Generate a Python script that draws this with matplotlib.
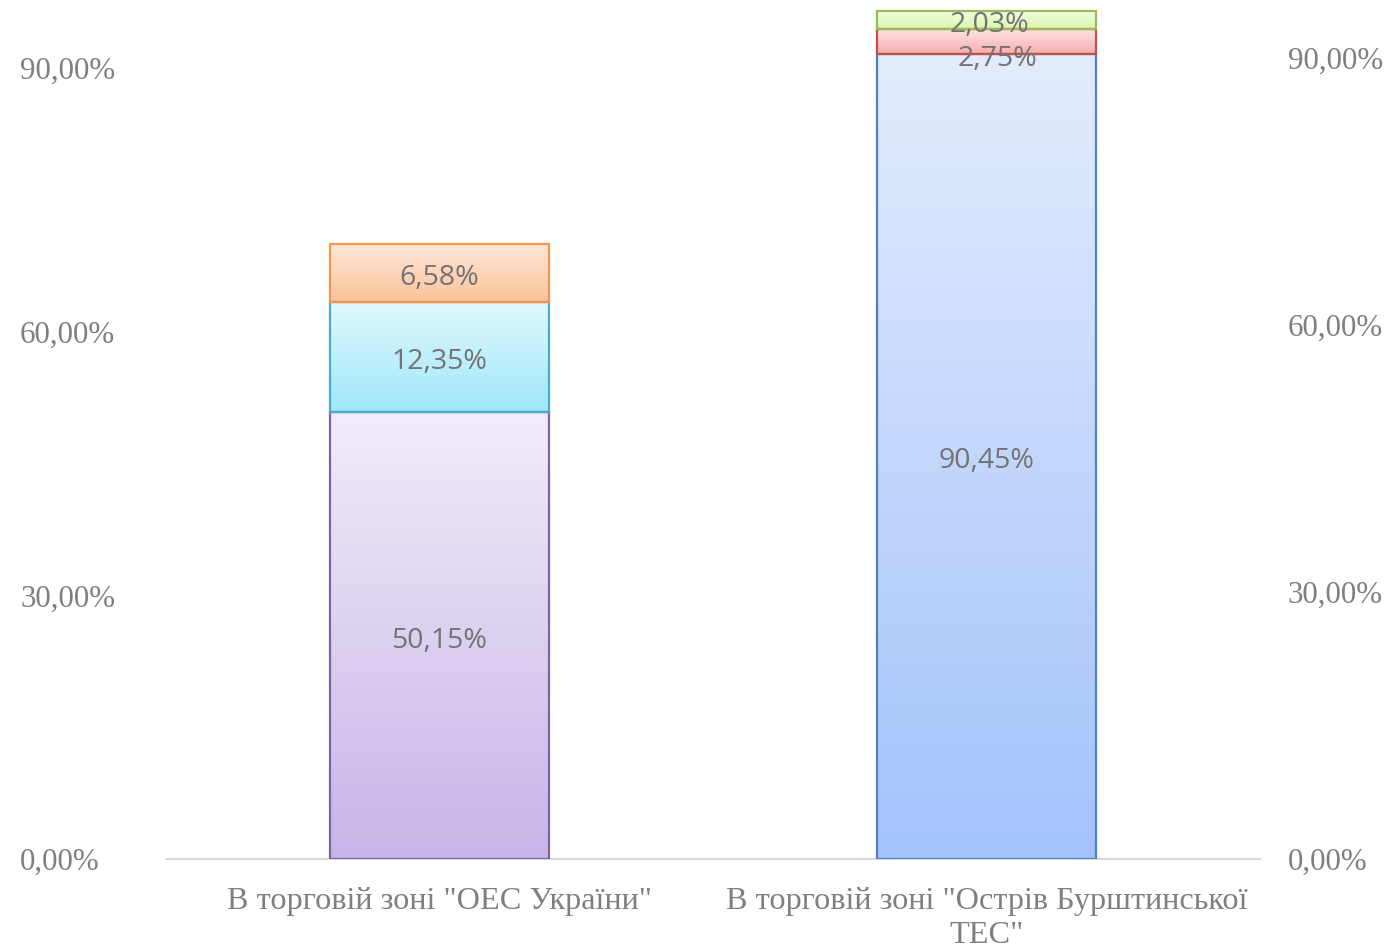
import matplotlib.pyplot as plt
import numpy as np
from matplotlib.colors import to_rgb

# shares by trading zone, stacked bottom -> top
zones = ['В торговій зоні "ОЕС України"', 'В торговій зоні "Острів Бурштинської\nТЕС"']
ues_values = [50.15, 12.35, 6.58]
burshtyn_values = [90.45, 2.75, 2.03]
yticks = [0, 30, 60, 90]

# (top colour, bottom colour, edge colour) per segment
ues_styles = [('#f1ecf9', '#c8b5e8', '#8064a2'),
              ('#e0f7fd', '#9fe8fa', '#4bacc6'),
              ('#fde7d9', '#fbc39a', '#f79646')]
burshtyn_styles = [('#e3ecfd', '#a4c2fc', '#4f81bd'),
                   ('#fde2e2', '#f8aeae', '#c0504d'),
                   ('#f1fce2', '#dbf6ad', '#9bbb59')]
# the thin red label is nudged so it doesn't sit on the green one
label_offsets = {(1, 1): (8, -9), (1, 2): (2, 0)}

gray = '#7f7f7f'
label_gray = '#737373'
serif = ['Liberation Serif', 'DejaVu Serif']
sans = ['Open Sans', 'DejaVu Sans']

fig = plt.figure(figsize=(13.91, 9.5), dpi=100)
ax = fig.add_axes([0.1193, 0.0958, 0.7865, 0.8989])
ax_left = ax.twinx()

width = 0.40
x = np.arange(len(zones))


def fmt(v):
    return f'{v:.2f}'.replace('.', ',') + '%'


for i, (vals, styles) in enumerate([(ues_values, ues_styles), (burshtyn_values, burshtyn_styles)]):
    bottom = 0
    for j, (v, (c_top, c_bot, c_edge)) in enumerate(zip(vals, styles)):
        t = np.linspace(0, 1, 128)[:, None, None]
        grad = (1 - t) * np.array(to_rgb(c_top)) + t * np.array(to_rgb(c_bot))
        ax.imshow(grad, extent=[x[i] - width / 2, x[i] + width / 2, bottom, bottom + v],
                  aspect='auto', origin='upper', zorder=2, interpolation='bilinear')
        ax.bar(x[i], v, width, bottom=bottom, facecolor='none', edgecolor=c_edge,
               linewidth=1.6, zorder=3)
        dx, dy = label_offsets.get((i, j), (0, 0))
        ax.annotate(fmt(v), (x[i], bottom + v / 2), xytext=(dx, dy - 3.5), textcoords='offset points',
                    ha='center', va='center', fontsize=20.5, color=label_gray,
                    family=sans, zorder=4)
        bottom += v

ax.set_xlim(-0.5, 1.5)
ax.set_ylim(0, 95.9)
ax_left.set_ylim(0, 97.17)

for a in (ax, ax_left):
    for s in a.spines.values():
        s.set_visible(False)
ax.spines['bottom'].set_visible(True)
ax.spines['bottom'].set_color('#d9d9d9')
ax.spines['bottom'].set_linewidth(1.5)

ax.set_xticks(x)
ax.set_xticklabels(zones, fontsize=23.2, color=gray, family=serif, linespacing=1.22)
ax.tick_params(axis='x', length=0, pad=20)

# right-hand scale belongs to the bars, left-hand scale is drawn separately
ax.yaxis.tick_right()
ax.set_yticks(yticks)
ax.set_yticklabels([fmt(t) for t in yticks], fontsize=22.3, color=gray, family=serif)
ax.tick_params(axis='y', length=0, pad=20)
for lbl in ax.get_yticklabels():
    lbl.set_ha('left')

ax_left.yaxis.tick_left()
ax_left.set_yticks(yticks)
ax_left.set_yticklabels([fmt(t) for t in yticks], fontsize=22.3, color=gray, family=serif)
ax_left.tick_params(axis='y', length=0, pad=105)
for lbl in ax_left.get_yticklabels():
    lbl.set_ha('left')

fig.savefig('out.png', dpi=100)
